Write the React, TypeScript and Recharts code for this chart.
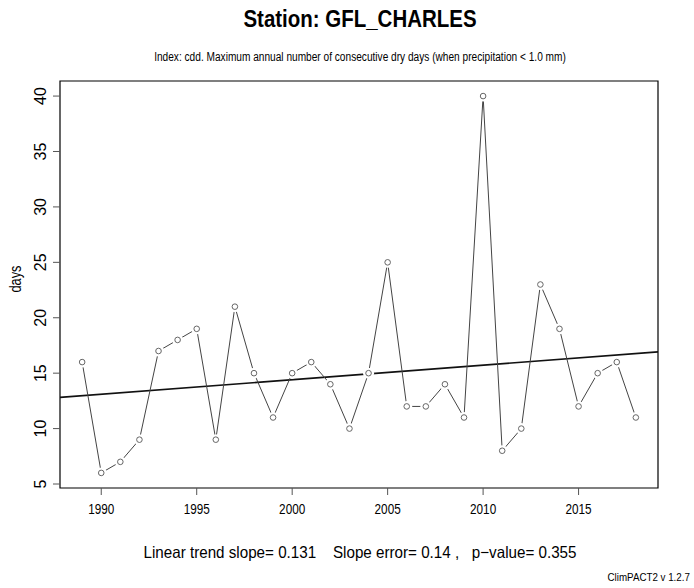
import React, { useEffect } from 'react'
import { ComposedChart, Line, XAxis, YAxis, ReferenceArea } from 'recharts'

const years = [
  1989, 1990, 1991, 1992, 1993, 1994, 1995, 1996, 1997, 1998,
  1999, 2000, 2001, 2002, 2003, 2004, 2005, 2006, 2007, 2008,
  2009, 2010, 2011, 2012, 2013, 2014, 2015, 2016, 2017, 2018,
]
const cddDays = [
  16, 6, 7, 9, 17, 18, 19, 9, 21, 15,
  11, 15, 16, 14, 10, 15, 25, 12, 12, 14,
  11, 40, 8, 10, 23, 19, 12, 15, 16, 11,
]
const xTicks = [1990, 1995, 2000, 2005, 2010, 2015]
const yTicks = [5, 10, 15, 20, 25, 30, 35, 40]
const trendSlope = 0.131
const slopeError = 0.14
const pValue = 0.355

const font = '"Liberation Sans", Arial, sans-serif'

// R-style axis padding: 4% each side
const pad = (lo: number, hi: number): [number, number] => {
  const d = (hi - lo) * 0.04
  return [lo - d, hi + d]
}
const xDomain = pad(Math.min(...years), Math.max(...years))
const yDomain = pad(Math.min(...cddDays), Math.max(...cddDays))

const data = years.map((year, i) => ({ year, days: cddDays[i] }))

const meanYear = years.reduce((a, b) => a + b, 0) / years.length
const meanDays = cddDays.reduce((a, b) => a + b, 0) / cddDays.length
const trendData = xDomain.map((year) => ({
  year,
  trend: meanDays + trendSlope * (year - meanYear),
}))

const PointDot = (props: any) => {
  const { cx, cy, index } = props
  if (cx == null || cy == null) return <g key={index} />
  return (
    <g key={index}>
      <circle cx={cx} cy={cy} r={5.5} fill="#fff" stroke="none" />
      <circle cx={cx} cy={cy} r={2.8} fill="#fff" stroke="#666" strokeWidth={1} />
    </g>
  )
}

const YTick = (props: any) => {
  const { x, y, payload } = props
  return (
    <text
      x={0}
      y={0}
      transform={`translate(${x} ${y}) rotate(-90)`}
      textAnchor="middle"
      fontSize={16}
      fontFamily={font}
      fill="#000"
    >
      {payload.value}
    </text>
  )
}

const XTick = (props: any) => {
  const { x, y, payload } = props
  return (
    <text
      x={0}
      y={0}
      dy="0.71em"
      transform={`translate(${x} ${y}) scale(0.84 1)`}
      textAnchor="middle"
      fontSize={14}
      fontFamily={font}
      fill="#000"
    >
      {payload.value}
    </text>
  )
}

export default function App() {
  useEffect(() => {
    document.body.style.margin = '0'
  }, [])

  return (
    <div style={{ position: 'relative', width: 694, height: 588, background: '#fff' }}>
      <div
        style={{
          position: 'absolute', left: 0, width: 720, top: 6, textAlign: 'center',
          fontFamily: font, fontWeight: 'bold', fontSize: 23, color: '#000',
          transform: 'scaleX(0.89)',
        }}
      >
        Station: GFL_CHARLES
      </div>
      <div
        style={{
          position: 'absolute', left: 0, width: 720, top: 50, textAlign: 'center',
          fontFamily: font, fontSize: 12.5, color: '#000', whiteSpace: 'pre',
          transform: 'scaleX(0.81)',
        }}
      >
        Index: cdd. Maximum annual number of consecutive dry days (when precipitation &lt; 1.0 mm)
      </div>
      <div
        style={{
          position: 'absolute', left: 16, top: 279,
          transform: 'translate(-50%, -50%) rotate(-90deg) scaleX(0.8)',
          fontFamily: font, fontSize: 16, color: '#000',
        }}
      >
        days
      </div>
      <ComposedChart
        width={694}
        height={588}
        data={data}
        margin={{ top: 81, right: 36, bottom: 60, left: 0 }}
      >
        <XAxis
          dataKey="year"
          type="number"
          domain={xDomain}
          ticks={xTicks}
          allowDataOverflow
          height={40}
          tickSize={7}
          tickMargin={9}
          axisLine={false}
          tickLine={{ stroke: '#555' }}
          tick={<XTick />}
        />
        <YAxis
          type="number"
          domain={yDomain}
          ticks={yTicks}
          allowDataOverflow
          width={60}
          tickSize={7}
          tickMargin={7}
          axisLine={false}
          tickLine={{ stroke: '#555' }}
          tick={<YTick />}
        />
        <ReferenceArea
          x1={xDomain[0]}
          x2={xDomain[1]}
          y1={yDomain[0]}
          y2={yDomain[1]}
          fill="none"
          stroke="#000"
          strokeWidth={1.2}
          ifOverflow="visible"
        />
        <Line
          data={trendData}
          dataKey="trend"
          type="linear"
          stroke="#111"
          strokeWidth={1.6}
          dot={false}
          isAnimationActive={false}
        />
        <Line
          dataKey="days"
          type="linear"
          stroke="#444"
          strokeWidth={1}
          dot={<PointDot />}
          activeDot={false}
          isAnimationActive={false}
        />
      </ComposedChart>
      <div
        style={{
          position: 'absolute', left: 0, width: 720, top: 543, textAlign: 'center',
          fontFamily: font, fontSize: 16.5, color: '#000', whiteSpace: 'pre',
          transform: 'scaleX(0.92)',
        }}
      >
        {`Linear trend slope= ${trendSlope}    Slope error= ${slopeError} ,   p−value= ${pValue}`}
      </div>
      <div
        style={{
          position: 'absolute', right: 4, top: 571,
          fontFamily: font, fontSize: 11.5, color: '#000',
          transform: 'scaleX(0.85)', transformOrigin: 'right center',
        }}
      >
        ClimPACT2 v 1.2.7
      </div>
    </div>
  )
}
